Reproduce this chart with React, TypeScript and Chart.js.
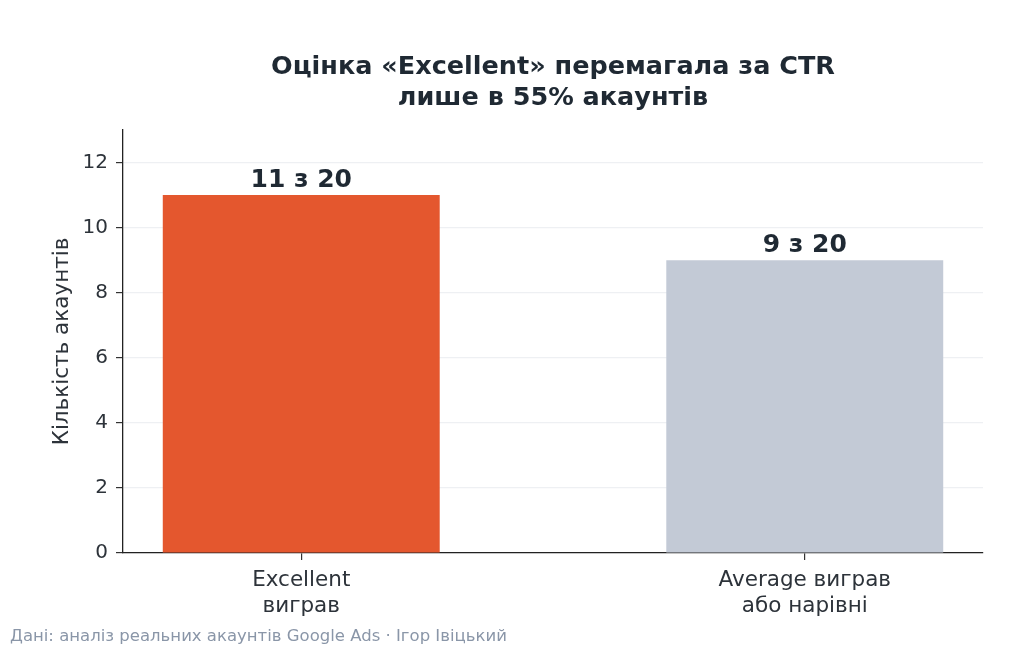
import React, { useEffect, useRef } from "react";
import { Chart, registerables } from "chart.js";

Chart.register(...registerables);

const categories: string[][] = [["Excellent", "виграв"], ["Average виграв", "або нарівні"]];
const values: number[] = [11, 9];
const totalAccounts = 20;
const valueLabels: string[] = values.map((v) => `${v} з ${totalAccounts}`);
const barColors: string[] = ["#E4572E", "#C3CAD6"];
const yTicks: number[] = [0, 2, 4, 6, 8, 10, 12];
const titleLines: string[] = ["Оцінка «Excellent» перемагала за CTR", "лише в 55% акаунтів"];
const yTitle = "Кількість акаунтів";
const footer = "Дані: аналіз реальних акаунтів Google Ads · Ігор Івіцький";

const FONT = "'DejaVu Sans', sans-serif";

export default function App() {
  const ref = useRef<HTMLCanvasElement | null>(null);

  useEffect(() => {
    document.body.style.margin = "0";
    const canvas = ref.current;
    if (!canvas) return;

    const extras = {
      id: "extras",
      afterDatasetsDraw(chart: any) {
        const ctx = chart.ctx;
        const meta = chart.getDatasetMeta(0);
        ctx.save();
        ctx.fillStyle = "#1f2933";
        ctx.font = `bold 25px ${FONT}`;
        ctx.textAlign = "center";
        ctx.textBaseline = "alphabetic";
        meta.data.forEach((el: any, i: number) => {
          ctx.fillText(valueLabels[i], el.x, el.y - 8);
        });
        ctx.restore();
      },
      afterDraw(chart: any) {
        const ctx = chart.ctx;
        const area = chart.chartArea;
        ctx.save();
        ctx.fillStyle = "#1f2933";
        ctx.font = `bold 25.5px ${FONT}`;
        ctx.textAlign = "center";
        ctx.textBaseline = "middle";
        const cx = (area.left + area.right) / 2;
        titleLines.forEach((t, i) => ctx.fillText(t, cx, 67 + i * 31));
        ctx.fillStyle = "#8a96a8";
        ctx.font = `16.5px ${FONT}`;
        ctx.textAlign = "left";
        ctx.fillText(footer, 10, 637);
        ctx.restore();
      },
    };

    const chart = new Chart(canvas, {
      type: "bar",
      data: {
        datasets: [
          {
            data: values.map((v, i) => ({ x: i, y: v })),
            backgroundColor: barColors,
            borderWidth: 0,
            barPercentage: 0.55,
            categoryPercentage: 1,
          },
        ],
      },
      options: {
        responsive: false,
        animation: false,
        layout: { padding: { top: 130, right: 41, bottom: 0, left: 0 } },
        plugins: { legend: { display: false }, tooltip: { enabled: false }, title: { display: false } },
        scales: {
          x: {
            type: "linear",
            min: -0.354,
            max: 1.354,
            offset: false,
            afterBuildTicks(scale: any) {
              scale.ticks = categories.map((_, i) => ({ value: i }));
            },
            afterFit(scale: any) {
              scale.height = 99;
            },
            ticks: {
              callback: (v: any) => categories[Math.round(Number(v))],
              color: "#2d333a",
              font: { family: FONT, size: 21.5, lineHeight: 1.21 },
              padding: 7,
              maxRotation: 0,
            },
            grid: { offset: false, drawOnChartArea: false, drawTicks: true, tickLength: 7, tickColor: "#333", lineWidth: 1.2 },
            border: { display: true, color: "#222", width: 1.3 },
          },
          y: {
            min: 0,
            max: 13,
            afterBuildTicks(scale: any) {
              scale.ticks = yTicks.map((v) => ({ value: v }));
            },
            afterFit(scale: any) {
              scale.width = 123;
            },
            ticks: {
              color: "#2d333a",
              font: { family: FONT, size: 20 },
              padding: 8,
            },
            grid: { color: "#eef0f3", lineWidth: 1.2, tickLength: 7, tickColor: "#333" },
            border: { display: true, color: "#222", width: 1.3 },
            title: {
              display: true,
              text: yTitle,
              color: "#2d333a",
              font: { family: FONT, size: 21.5 },
              padding: { top: 50, bottom: 0 },
            },
          },
        },
      },
      plugins: [extras],
    } as any);

    return () => chart.destroy();
  }, []);

  return (
    <div style={{ position: "absolute", left: 0, top: 0, width: 1024, height: 652, background: "#fff" }}>
      <canvas ref={ref} width={1024} height={652} />
    </div>
  );
}
